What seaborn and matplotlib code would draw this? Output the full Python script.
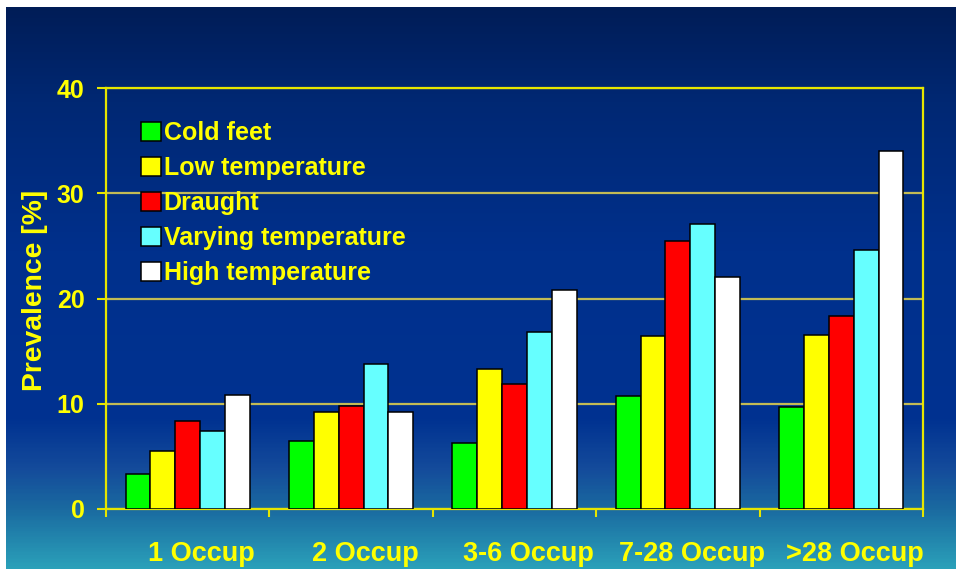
import numpy as np
import pandas as pd
import matplotlib
matplotlib.use("Agg")
import matplotlib.pyplot as plt
import matplotlib.transforms as mtransforms
from matplotlib.patches import Patch
from matplotlib.colors import LinearSegmentedColormap
import seaborn as sns

# Prevalence of thermal complaints by number of occupants per office
categories = ["1 Occup", "2 Occup", "3-6 Occup", "7-28 Occup", ">28 Occup"]
series_names = ["Cold feet", "Low temperature", "Draught",
                "Varying temperature", "High temperature"]
cold_feet = [3.3, 6.5, 6.3, 10.7, 9.7]
low_temperature = [5.5, 9.2, 13.3, 16.4, 16.5]
draught = [8.4, 9.8, 11.9, 25.5, 18.3]
varying_temperature = [7.4, 13.8, 16.8, 27.1, 24.6]
high_temperature = [10.8, 9.2, 20.8, 22.0, 34.0]
y_ticks = [0, 10, 20, 30, 40]

bar_colors = ["#00ff00", "#ffff00", "#ff0000", "#66ffff", "#ffffff"]
YELLOW = "#ffff00"
AXIS_YELLOW = "#e6e600"

series_values = [cold_feet, low_temperature, draught,
                 varying_temperature, high_temperature]
df = pd.DataFrame({
    "occupancy": [c for vals in series_values for c in categories],
    "complaint": [n for n, vals in zip(series_names, series_values) for _ in vals],
    "prevalence": [v for vals in series_values for v in vals],
})

sns.set_style("ticks")
plt.rcParams["font.family"] = ["Liberation Sans", "DejaVu Sans"]
plt.rcParams["font.weight"] = "bold"

W, H = 956, 569
fig = plt.figure(figsize=(W / 100, H / 100), dpi=100, facecolor="white")

# Slide-style vertical gradient backdrop
stops = [(0, (0, 28, 85)), (100, (0, 40, 115)), (250, (0, 48, 140)),
         (420, (0, 50, 145)), (470, (20, 75, 155)), (509, (26, 105, 160)),
         (569, (42, 160, 185))]
cmap = LinearSegmentedColormap.from_list(
    "slide", [(p / H, tuple(c / 255 for c in rgb)) for p, rgb in stops])
bg = fig.add_axes([6 / W, 0, (W - 6) / W, (H - 7) / H], zorder=-5)
grad = np.linspace(7 / H, 1, 400).reshape(-1, 1)
bg.imshow(grad, cmap=cmap, aspect="auto", extent=[0, 1, 0, 1], vmin=0, vmax=1,
          origin="upper")
bg.set_axis_off()

ax = fig.add_axes([106 / W, (H - 509) / H, 817 / W, 421 / H])
ax.set_facecolor("none")

sns.barplot(data=df, x="occupancy", y="prevalence", hue="complaint",
            order=categories, hue_order=series_names, palette=bar_colors,
            saturation=1, width=0.76, edgecolor="black", linewidth=1.1,
            ax=ax, zorder=3)

ax.set_xlim(-0.5, len(categories) - 0.5)
ax.set_ylim(0, 40)
ax.set_yticks(y_ticks)
ax.yaxis.grid(True, color="#c2bb55", linewidth=1.6, zorder=0)
ax.xaxis.grid(False)
ax.set_axisbelow(True)

for side in ["left", "right", "top", "bottom"]:
    ax.spines[side].set_visible(True)
    ax.spines[side].set_color(AXIS_YELLOW)
    ax.spines[side].set_linewidth(1.6)

ax.tick_params(axis="y", which="major", direction="out", length=6.5, width=1.5,
               color=AXIS_YELLOW, labelcolor=YELLOW, labelsize=18, pad=9)
for lbl in ax.get_yticklabels():
    lbl.set_fontweight("bold")

# Category labels sit slightly right of each group's centre
ax.set_xticks(range(len(categories)))
ax.tick_params(axis="x", which="major", length=0, labelbottom=False)
ax.set_xticks(np.arange(-0.5, len(categories)), minor=True)
ax.tick_params(axis="x", which="minor", direction="out", length=6, width=1.5,
               color=AXIS_YELLOW)
label_tf = (mtransforms.blended_transform_factory(ax.transData, ax.transAxes)
            + mtransforms.ScaledTranslation(14 / 100, 0, fig.dpi_scale_trans))
for i, name in enumerate(categories):
    ax.text(i, -45 / 421, name, transform=label_tf, ha="center", va="center",
            color=YELLOW, fontsize=19.5, fontweight="bold")

ax.set_xlabel("")
ax.set_ylabel("Prevalence [%]", color=YELLOW, fontsize=20.3, fontweight="bold")
ax.yaxis.set_label_coords(-58 / 817, 0.52)

if ax.get_legend() is not None:
    ax.get_legend().remove()
handles = [Patch(facecolor=c, edgecolor="black", linewidth=1.1) for c in bar_colors]
leg = ax.legend(handles, series_names, loc="upper left",
                bbox_to_anchor=(35 / 817, 1 - 33 / 421), frameon=False,
                borderpad=0, borderaxespad=0, handlelength=0.8,
                handleheight=0.8, handletextpad=0.1, labelspacing=0.44,
                prop={"size": 18, "weight": "bold"}, labelcolor=YELLOW)

fig.savefig("out.png", dpi=100, facecolor=fig.get_facecolor())
